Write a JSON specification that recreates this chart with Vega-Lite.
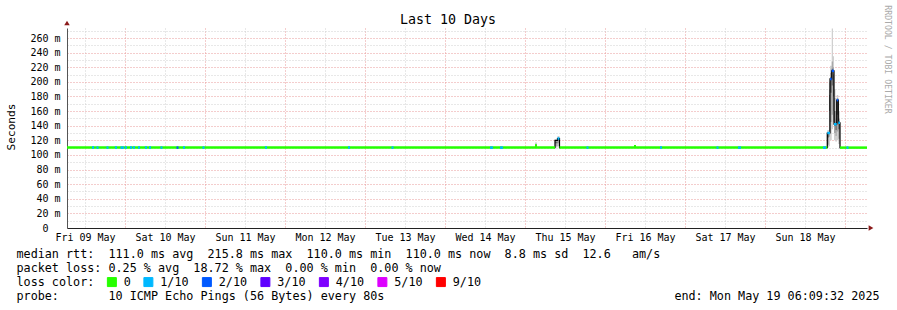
{
  "$schema": "https://vega.github.io/schema/vega-lite/v6.json",
  "width": 800,
  "height": 200,
  "autosize": {"type": "none"},
  "padding": {"left": 67, "top": 28, "right": 30, "bottom": 82},
  "background": "white",
  "title": {"text": "Last 10 Days", "font": "DejaVu Sans Mono", "fontSize": 13.3, "fontWeight": "normal", "color": "#000000", "anchor": "middle", "frame": "group", "dx": -19, "dy": 41, "offset": 5, "baseline": "bottom"},
  "config": {"view": {"stroke": null}},
  "resolve": {"axis": {"y": "independent"}},
  "datasets": {
    "seg": [
      {"t": "2025-05-09T06:36:00Z", "t2": "2025-05-15T09:00:00Z", "v": 110, "loss": "0"},
      {"t": "2025-05-15T10:21:00Z", "t2": "2025-05-18T18:41:00Z", "v": 110, "loss": "0"},
      {"t": "2025-05-18T22:30:00Z", "t2": "2025-05-19T06:36:00Z", "v": 110, "loss": "0"},
      {"t": "2025-05-15T03:00:00Z", "t2": "2025-05-15T03:36:00Z", "v": 113, "loss": "0"},
      {"t": "2025-05-16T08:42:00Z", "t2": "2025-05-16T09:18:00Z", "v": 112, "loss": "0"},
      {"t": "2025-05-09T14:06:00Z", "t2": "2025-05-09T14:42:00Z", "v": 110, "loss": "1/10"},
      {"t": "2025-05-09T15:27:00Z", "t2": "2025-05-09T16:03:00Z", "v": 110, "loss": "1/10"},
      {"t": "2025-05-09T18:27:00Z", "t2": "2025-05-09T19:03:00Z", "v": 110, "loss": "1/10"},
      {"t": "2025-05-09T21:00:00Z", "t2": "2025-05-09T21:36:00Z", "v": 110, "loss": "1/10"},
      {"t": "2025-05-09T22:39:00Z", "t2": "2025-05-09T23:39:00Z", "v": 110, "loss": "1/10"},
      {"t": "2025-05-10T00:00:00Z", "t2": "2025-05-10T00:36:00Z", "v": 110, "loss": "1/10"},
      {"t": "2025-05-10T01:30:00Z", "t2": "2025-05-10T02:06:00Z", "v": 110, "loss": "1/10"},
      {"t": "2025-05-10T02:24:00Z", "t2": "2025-05-10T03:00:00Z", "v": 110, "loss": "1/10"},
      {"t": "2025-05-10T03:54:00Z", "t2": "2025-05-10T04:30:00Z", "v": 110, "loss": "1/10"},
      {"t": "2025-05-10T06:00:00Z", "t2": "2025-05-10T06:36:00Z", "v": 110, "loss": "1/10"},
      {"t": "2025-05-10T07:12:00Z", "t2": "2025-05-10T07:48:00Z", "v": 110, "loss": "1/10"},
      {"t": "2025-05-10T10:39:00Z", "t2": "2025-05-10T11:15:00Z", "v": 110, "loss": "1/10"},
      {"t": "2025-05-10T15:27:00Z", "t2": "2025-05-10T16:03:00Z", "v": 110, "loss": "2/10"},
      {"t": "2025-05-10T17:24:00Z", "t2": "2025-05-10T18:00:00Z", "v": 110, "loss": "1/10"},
      {"t": "2025-05-10T23:15:00Z", "t2": "2025-05-10T23:51:00Z", "v": 110, "loss": "1/10"},
      {"t": "2025-05-11T18:00:00Z", "t2": "2025-05-11T18:36:00Z", "v": 110, "loss": "1/10"},
      {"t": "2025-05-12T18:54:00Z", "t2": "2025-05-12T19:30:00Z", "v": 110, "loss": "1/10"},
      {"t": "2025-05-13T07:57:00Z", "t2": "2025-05-13T08:33:00Z", "v": 110, "loss": "1/10"},
      {"t": "2025-05-14T13:30:00Z", "t2": "2025-05-14T14:24:00Z", "v": 110, "loss": "1/10"},
      {"t": "2025-05-14T16:30:00Z", "t2": "2025-05-14T17:24:00Z", "v": 110, "loss": "1/10"},
      {"t": "2025-05-15T18:27:00Z", "t2": "2025-05-15T19:03:00Z", "v": 110, "loss": "1/10"},
      {"t": "2025-05-16T16:30:00Z", "t2": "2025-05-16T17:06:00Z", "v": 110, "loss": "1/10"},
      {"t": "2025-05-17T09:27:00Z", "t2": "2025-05-17T10:03:00Z", "v": 110, "loss": "1/10"},
      {"t": "2025-05-17T15:54:00Z", "t2": "2025-05-17T16:48:00Z", "v": 110, "loss": "1/10"},
      {"t": "2025-05-18T17:24:00Z", "t2": "2025-05-18T18:18:00Z", "v": 110, "loss": "1/10"},
      {"t": "2025-05-19T00:27:00Z", "t2": "2025-05-19T01:03:00Z", "v": 110, "loss": "1/10"},
      {"t": "2025-05-15T09:45:00Z", "t2": "2025-05-15T10:21:00Z", "v": 122.5, "loss": "1/10"},
      {"t": "2025-05-18T18:41:00Z", "t2": "2025-05-18T19:30:00Z", "v": 130, "loss": "1/10"},
      {"t": "2025-05-18T19:30:00Z", "t2": "2025-05-18T20:01:00Z", "v": 204, "loss": "2/10"},
      {"t": "2025-05-18T20:01:00Z", "t2": "2025-05-18T20:42:00Z", "v": 215, "loss": "2/10"},
      {"t": "2025-05-18T20:42:00Z", "t2": "2025-05-18T21:31:00Z", "v": 142, "loss": "1/10"},
      {"t": "2025-05-18T21:31:00Z", "t2": "2025-05-18T21:59:00Z", "v": 175, "loss": "2/10"},
      {"t": "2025-05-18T21:59:00Z", "t2": "2025-05-18T22:30:00Z", "v": 144, "loss": "1/10"}
    ],
    "med": [
      {"t": "2025-05-15T08:42:00Z", "v": 110, "g": "b"},
      {"t": "2025-05-15T09:00:00Z", "v": 120, "g": "b"},
      {"t": "2025-05-15T09:45:00Z", "v": 122.5, "g": "b"},
      {"t": "2025-05-15T10:21:00Z", "v": 110, "g": "b"},
      {"t": "2025-05-15T10:40:00Z", "v": 110, "g": "b"},
      {"t": "2025-05-18T18:20:00Z", "v": 110, "g": "c"},
      {"t": "2025-05-18T18:41:00Z", "v": 130, "g": "c"},
      {"t": "2025-05-18T19:30:00Z", "v": 204, "g": "c"},
      {"t": "2025-05-18T20:01:00Z", "v": 215, "g": "c"},
      {"t": "2025-05-18T20:42:00Z", "v": 142, "g": "c"},
      {"t": "2025-05-18T21:31:00Z", "v": 175, "g": "c"},
      {"t": "2025-05-18T21:59:00Z", "v": 144, "g": "c"},
      {"t": "2025-05-18T22:30:00Z", "v": 110, "g": "c"},
      {"t": "2025-05-18T22:50:00Z", "v": 110, "g": "c"}
    ],
    "smoke": [
      {"t": "2025-05-15T03:00:00Z", "g": "a", "lo1": 110, "hi1": 117, "lo2": 111, "hi2": 114.5, "lo3": 112, "hi3": 113},
      {"t": "2025-05-15T03:36:00Z", "g": "a", "lo1": 110, "hi1": 110, "lo2": 110, "hi2": 110, "lo3": 110, "hi3": 110},
      {"t": "2025-05-15T08:42:00Z", "g": "b", "lo1": 110, "hi1": 110, "lo2": 110, "hi2": 110, "lo3": 110, "hi3": 110},
      {"t": "2025-05-15T09:00:00Z", "g": "b", "lo1": 110, "hi1": 121, "lo2": 112, "hi2": 119, "lo3": 116, "hi3": 118},
      {"t": "2025-05-15T09:45:00Z", "g": "b", "lo1": 112, "hi1": 126, "lo2": 116, "hi2": 124, "lo3": 120, "hi3": 122},
      {"t": "2025-05-15T10:21:00Z", "g": "b", "lo1": 110, "hi1": 110, "lo2": 110, "hi2": 110, "lo3": 110, "hi3": 110},
      {"t": "2025-05-18T18:27:00Z", "g": "c", "lo1": 110, "hi1": 112, "lo2": 110, "hi2": 111, "lo3": 110, "hi3": 110.5},
      {"t": "2025-05-18T18:41:00Z", "g": "c", "lo1": 110, "hi1": 134, "lo2": 114, "hi2": 130, "lo3": 124, "hi3": 129},
      {"t": "2025-05-18T19:12:00Z", "g": "c", "lo1": 112, "hi1": 200, "lo2": 125, "hi2": 190, "lo3": 160, "hi3": 182},
      {"t": "2025-05-18T19:30:00Z", "g": "c", "lo1": 120, "hi1": 222, "lo2": 145, "hi2": 212, "lo3": 185, "hi3": 206},
      {"t": "2025-05-18T20:01:00Z", "g": "c", "lo1": 135, "hi1": 273, "lo2": 155, "hi2": 228, "lo3": 195, "hi3": 218},
      {"t": "2025-05-18T20:24:00Z", "g": "c", "lo1": 145, "hi1": 235, "lo2": 160, "hi2": 220, "lo3": 180, "hi3": 210},
      {"t": "2025-05-18T20:42:00Z", "g": "c", "lo1": 120, "hi1": 190, "lo2": 130, "hi2": 178, "lo3": 140, "hi3": 160},
      {"t": "2025-05-18T21:09:00Z", "g": "c", "lo1": 118, "hi1": 160, "lo2": 126, "hi2": 150, "lo3": 134, "hi3": 144},
      {"t": "2025-05-18T21:31:00Z", "g": "c", "lo1": 120, "hi1": 182, "lo2": 132, "hi2": 178, "lo3": 155, "hi3": 174},
      {"t": "2025-05-18T21:59:00Z", "g": "c", "lo1": 115, "hi1": 160, "lo2": 122, "hi2": 150, "lo3": 135, "hi3": 146},
      {"t": "2025-05-18T22:30:00Z", "g": "c", "lo1": 110, "hi1": 112, "lo2": 110, "hi2": 111, "lo3": 110, "hi3": 110.5},
      {"t": "2025-05-18T22:48:00Z", "g": "c", "lo1": 110, "hi1": 110, "lo2": 110, "hi2": 110, "lo3": 110, "hi3": 110}
    ]
  },
  "layer": [
    {
      "data": {"name": "smoke"},
      "mark": {"type": "area", "interpolate": "step-after", "color": "#d0d0d0", "opacity": 1},
      "encoding": {
        "x": {
          "field": "t", "type": "temporal",
          "scale": {"type": "utc", "domain": [1746772560000, 1747636560000]},
          "axis": {
            "orient": "bottom",
            "values": [1746792000000, 1746813600000, 1746835200000, 1746856800000, 1746878400000, 1746900000000, 1746921600000, 1746943200000, 1746964800000, 1746986400000, 1747008000000, 1747029600000, 1747051200000, 1747072800000, 1747094400000, 1747116000000, 1747137600000, 1747159200000, 1747180800000, 1747202400000, 1747224000000, 1747245600000, 1747267200000, 1747288800000, 1747310400000, 1747332000000, 1747353600000, 1747375200000, 1747396800000, 1747418400000, 1747440000000, 1747461600000, 1747483200000, 1747504800000, 1747526400000, 1747548000000, 1747569600000, 1747591200000, 1747612800000, 1747634400000],
            "grid": true,
            "gridColor": {"condition": {"test": "utchours(datum.value) == 0", "value": "#e89a9a"}, "value": "#d0d0d0"},
            "gridDash": [1, 2],
            "gridWidth": 1,
            "ticks": false,
            "domainColor": "#222222",
            "domainWidth": 1,
            "labelExpr": "utchours(datum.value) == 12 ? utcFormat(datum.value, '%a %d %b') : ''",
            "labelFont": "DejaVu Sans Mono",
            "labelFontSize": 10,
            "labelColor": "#000000",
            "labelPadding": 4,
            "labelOverlap": false,
            "labelFlush": false,
            "labelBound": false,
            "title": [
              "median\u00a0rtt:\u00a0\u00a0111.0\u00a0ms\u00a0avg\u00a0\u00a0215.8\u00a0ms\u00a0max\u00a0\u00a0110.0\u00a0ms\u00a0min\u00a0\u00a0110.0\u00a0ms\u00a0now\u00a0\u00a08.8\u00a0ms\u00a0sd\u00a0\u00a012.6\u00a0\u00a0\u00a0am/s",
              "packet\u00a0loss:\u00a00.25\u00a0%\u00a0avg\u00a0\u00a018.72\u00a0%\u00a0max\u00a0\u00a00.00\u00a0%\u00a0min\u00a0\u00a00.00\u00a0%\u00a0now",
              "loss\u00a0color:",
              "probe:\u00a0\u00a0\u00a0\u00a0\u00a0\u00a0\u00a010\u00a0ICMP\u00a0Echo\u00a0Pings\u00a0(56\u00a0Bytes)\u00a0every\u00a080s\u00a0\u00a0\u00a0\u00a0\u00a0\u00a0\u00a0\u00a0\u00a0\u00a0\u00a0\u00a0\u00a0\u00a0\u00a0\u00a0\u00a0\u00a0\u00a0\u00a0\u00a0\u00a0\u00a0\u00a0\u00a0\u00a0\u00a0\u00a0\u00a0\u00a0\u00a0\u00a0\u00a0\u00a0\u00a0\u00a0\u00a0\u00a0\u00a0\u00a0\u00a0end:\u00a0Mon\u00a0May\u00a019\u00a006:09:32\u00a02025"
            ],
            "titleFont": "DejaVu Sans Mono",
            "titleFontSize": 11.75,
            "titleFontWeight": "normal",
            "titleColor": "#000000",
            "titleAnchor": "start",
            "titleAlign": "left",
            "titleBaseline": "top",
            "titleX": -51,
            "titleY": 20,
            "titleLineHeight": 14,
            "titleLimit": 1200
          }
        },
        "y": {"field": "lo1", "type": "quantitative", "scale": {"domain": [0, 273.7], "nice": false, "zero": true}, "axis": null},
        "y2": {"field": "hi1"},
        "detail": {"field": "g"}
      }
    },
    {
      "data": {"name": "smoke"},
      "mark": {"type": "area", "interpolate": "step-after", "color": "#a8a8a8", "opacity": 1},
      "encoding": {
        "x": {"field": "t", "type": "temporal"},
        "y": {"field": "lo2", "type": "quantitative", "axis": null},
        "y2": {"field": "hi2"},
        "detail": {"field": "g"}
      }
    },
    {
      "data": {"name": "smoke"},
      "mark": {"type": "area", "interpolate": "step-after", "color": "#6a6a6a", "opacity": 1},
      "encoding": {
        "x": {"field": "t", "type": "temporal"},
        "y": {"field": "lo3", "type": "quantitative", "axis": null},
        "y2": {"field": "hi3"},
        "detail": {"field": "g"}
      }
    },
    {
      "data": {"name": "med"},
      "mark": {"type": "line", "interpolate": "step-after", "color": "#000000", "strokeWidth": 1.2},
      "encoding": {
        "x": {"field": "t", "type": "temporal"},
        "y": {
          "field": "v", "type": "quantitative",
          "axis": {
            "orient": "right", "grid": false, "ticks": false, "labels": false, "domain": false,
            "title": "RRDTOOL / TOBI OETIKER",
            "titleFont": "DejaVu Sans Mono", "titleFontSize": 8.2, "titleFontWeight": "normal", "titleColor": "#aaaaaa",
            "titleAngle": 90, "titleX": 19, "titleY": 31, "titleAlign": "center", "titleBaseline": "middle"
          }
        },
        "detail": {"field": "g"}
      }
    },
    {
      "data": {"name": "seg"},
      "mark": {"type": "rule", "strokeWidth": 2.5},
      "encoding": {
        "x": {"field": "t", "type": "temporal"},
        "x2": {"field": "t2"},
        "y": {
          "field": "v", "type": "quantitative",
          "axis": {
            "orient": "left",
            "values": [0, 10, 20, 30, 40, 50, 60, 70, 80, 90, 100, 110, 120, 130, 140, 150, 160, 170, 180, 190, 200, 210, 220, 230, 240, 250, 260, 270],
            "grid": true,
            "gridColor": {"condition": {"test": "datum.value % 20 == 0", "value": "#e89a9a"}, "value": "#d0d0d0"},
            "gridDash": [1, 2],
            "gridWidth": 1,
            "ticks": false,
            "domainColor": "#555555",
            "domainWidth": 1,
            "labelExpr": "datum.value % 20 == 0 ? (datum.value == 0 ? '0' : datum.value + '\u00a0m') : ''",
            "labelFont": "DejaVu Sans Mono",
            "labelFontSize": 10,
            "labelColor": "#000000",
            "labelPadding": {"condition": {"test": "datum.value == 0", "value": 19}, "value": 7},
            "labelOverlap": false,
            "labelBaseline": "middle",
            "labelFlush": false,
            "title": "Seconds",
            "titleFont": "DejaVu Sans Mono",
            "titleFontSize": 11.1,
            "titleFontWeight": "normal",
            "titleColor": "#000000",
            "titleAngle": -90,
            "titleX": -56,
            "titleY": 98.5,
            "titleAlign": "center",
            "titleBaseline": "middle"
          }
        },
        "color": {
          "field": "loss", "type": "nominal",
          "scale": {"domain": ["0", "1/10", "2/10", "3/10", "4/10", "5/10", "9/10"], "range": ["#26ff00", "#00b8ff", "#0059ff", "#5e00ff", "#7e00ff", "#dd00ff", "#ff0000"]},
          "legend": {
            "orient": "none", "legendX": 39, "legendY": 248, "direction": "horizontal", "title": null,
            "symbolType": "square", "symbolSize": 81, "symbolStrokeColor": "#000000", "symbolStrokeWidth": 1, "symbolOpacity": 1,
            "labelFont": "DejaVu Sans Mono", "labelFontSize": 11.75, "labelColor": "#000000", "labelOffset": 6,
            "columnPadding": 10.5, "padding": 0,
            "encode": {"symbols": {"update": {"fill": {"scale": "color", "field": "value"}, "stroke": {"value": "#000000"}}}}
          }
        }
      }
    },
    {
      "data": {"values": [{"t": "2025-05-19T06:36:00Z", "v": 0}]},
      "mark": {"type": "point", "shape": "triangle-right", "filled": true, "color": "#8b1a1a", "size": 30, "opacity": 1, "xOffset": 4, "clip": false},
      "encoding": {
        "x": {"field": "t", "type": "temporal"},
        "y": {"field": "v", "type": "quantitative", "axis": null}
      }
    },
    {
      "data": {"values": [{"t": "2025-05-09T06:36:00Z", "v": 273.7}]},
      "mark": {"type": "point", "shape": "triangle-up", "filled": true, "color": "#8b1a1a", "size": 30, "opacity": 1, "yOffset": -5, "clip": false},
      "encoding": {
        "x": {"field": "t", "type": "temporal"},
        "y": {"field": "v", "type": "quantitative", "axis": null}
      }
    }
  ]
}
